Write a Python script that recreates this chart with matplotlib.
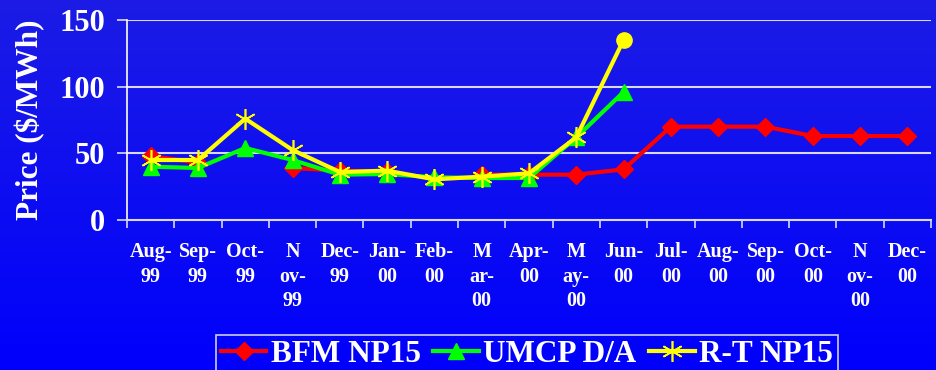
import matplotlib
matplotlib.use("Agg")
import matplotlib.pyplot as plt
import numpy as np

# %% Data
months = ["Aug-\n99", "Sep-\n99", "Oct-\n99", "N\nov-\n99", "Dec-\n99", "Jan-\n00",
          "Feb-\n00", "M\nar-\n00", "Apr-\n00", "M\nay-\n00", "Jun-\n00", "Jul-\n00",
          "Aug-\n00", "Sep-\n00", "Oct-\n00", "N\nov-\n00", "Dec-\n00"]
nan = np.nan
bfm_np15 = [48, 43, nan, 39, 37, 36, nan, 34, 34, 34, 38, 70, 70, 70, 63, 63, 63]
umcp_da = [40, 39, 54, 45, 34, 34.5, 32, 31.5, 31.5, 62, 96]
rt_np15 = [45, 45, 76, 52.5, 36, 37, 30.5, 32.5, 35, 62, 135]

yticks = [0, 50, 100, 150]

serif = "Liberation Serif"
white = "white"

# %% Figure with a vertical blue gradient behind everything
fig = plt.figure(figsize=(9.36, 3.70), dpi=100)
bg = fig.add_axes([0, 0, 1, 1], zorder=-10)
top_col = np.array([0.11, 0.11, 0.90])
bot_col = np.array([0.0, 0.0, 0.99])
t = np.linspace(0, 1, 256)[:, None]
grad = (top_col * (1 - t) + bot_col * t)[:, None, :]
bg.imshow(grad, aspect="auto", extent=[0, 1, 0, 1])
bg.axis("off")

ax = fig.add_axes([127 / 936, 150 / 370, 804 / 936, 200 / 370])
ax.patch.set_visible(False)

x = np.arange(len(months))
n_rt = len(rt_np15)

ax.plot(x, bfm_np15, color="#ff0000", lw=3, marker="D", ms=9,
        mec="#ff0000", mfc="#ff0000", zorder=3, label="BFM NP15")
ax.plot(x[:len(umcp_da)], umcp_da, color="#00ff00", lw=3, marker="^", ms=11,
        mec="#00ff00", mfc="#00ff00", zorder=4, label="UMCP D/A")
ax.plot(x[:n_rt], rt_np15, color="#ffff00", lw=3, marker=(6, 2, 0), ms=15,
        mew=1.2, mec="#ffff00", markevery=list(range(n_rt - 1)), zorder=5,
        label="R-T NP15")
# last real-time point drawn as a round marker
ax.plot(x[n_rt - 1], rt_np15[-1], marker="o", ms=11, color="#ffff00",
        ls="none", zorder=6)

ax.set_xlim(-0.5, len(months) - 0.5)
ax.set_ylim(0, 150)
ax.set_yticks(yticks)
ax.set_yticklabels([str(v) for v in yticks], fontfamily=serif, fontweight="bold",
                   fontsize=22, color=white)
ax.set_xticks(x)
ax.set_xticklabels(months, fontfamily=serif, fontweight="bold", fontsize=14.5,
                   color=white, linespacing=1.3, va="top")
ax.set_xticks(np.arange(-0.5, len(months), 1), minor=True)
ax.tick_params(axis="x", which="major", length=0, pad=16)
ax.tick_params(axis="x", which="minor", length=6, width=1.2, color="#d8d8ff",
               direction="out")
ax.tick_params(axis="y", length=7, width=1.2, color="#d8d8ff", pad=9)

for v in yticks[1:]:
    ax.axhline(v, color="#d8d8ff", lw=1.5, zorder=1)

for side in ["top", "right"]:
    ax.spines[side].set_visible(False)
ax.spines["left"].set_color(white)
ax.spines["left"].set_linewidth(1.2)
ax.spines["bottom"].set_color("#d8d8ff")
ax.spines["bottom"].set_linewidth(1.5)

ax.set_ylabel("Price ($/MWh)", fontfamily=serif, fontweight="bold", fontsize=22.5,
              color=white, labelpad=10)

leg = fig.legend(loc="upper center", bbox_to_anchor=(527 / 936, 35 / 370), ncol=3,
                 frameon=True, fancybox=False, handlelength=1.45,
                 handletextpad=0.15, columnspacing=0.4, borderpad=0.15,
                 borderaxespad=0,
                 prop={"family": serif, "weight": "bold", "size": 22.5})
leg.get_frame().set_facecolor("none")
leg.get_frame().set_edgecolor(white)
leg.get_frame().set_linewidth(1.2)
for txt in leg.get_texts():
    txt.set_color(white)

fig.savefig("out.png", dpi=100)
